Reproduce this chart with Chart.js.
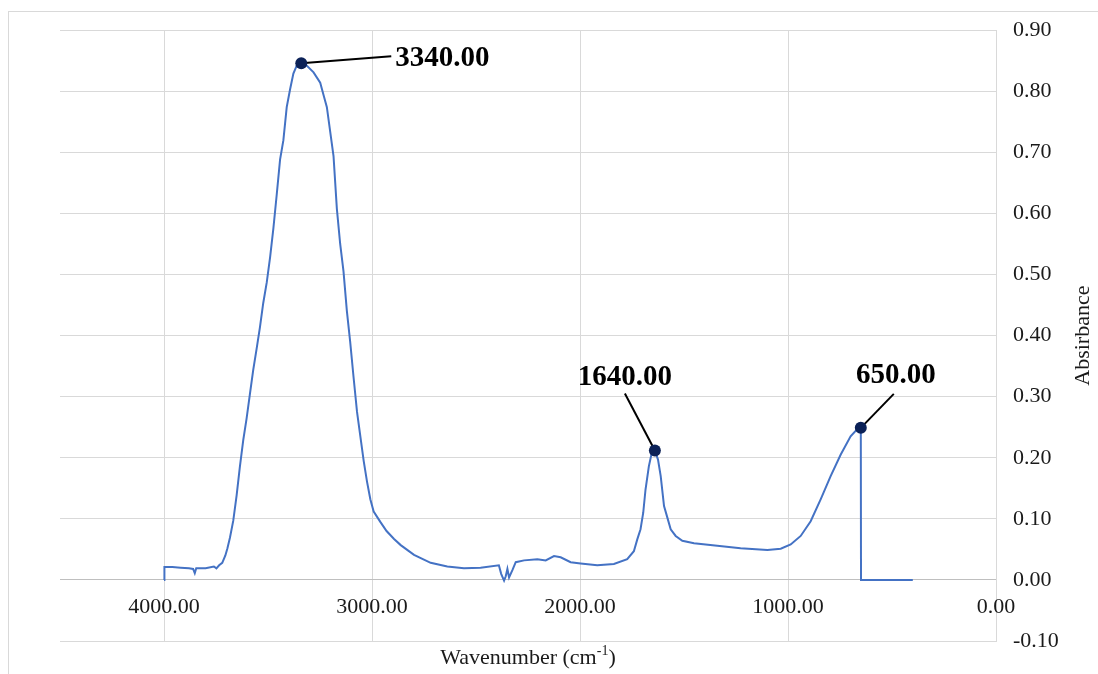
<!DOCTYPE html>
<html>
<head>
<meta charset="utf-8">
<script src="https://cdn.jsdelivr.net/npm/chart.js@4.4.1/dist/chart.umd.min.js"></script>
<style>
  html, body { margin: 0; padding: 0; background: #fff; }
  #wrap { position: relative; width: 1098px; height: 674px; overflow: hidden; }
</style>
</head>
<body>
<div id="wrap"><canvas id="ftir" width="1098" height="674"></canvas></div>
<script>
// spectrum (cm-1 vs absorbance)
const wavenumber = [
    4000, 3998, 3960, 3920, 3880, 3860, 3852, 3845, 3800, 3760, 3748, 3735, 3720, 3705, 3695,
    3683, 3667, 3651, 3635, 3619, 3603, 3587, 3571, 3555, 3539, 3523, 3506, 3490, 3474, 3458,
    3442, 3426, 3410, 3394, 3378, 3362, 3340, 3314, 3281, 3249, 3233, 3217, 3201, 3185, 3169,
    3153, 3137, 3121, 3105, 3089, 3072, 3056, 3040, 3024, 3008, 2992, 2960, 2930, 2894, 2862,
    2798, 2718, 2638, 2558, 2478, 2390, 2379, 2365, 2357, 2349, 2341, 2325, 2309, 2269, 2205,
    2165, 2125, 2093, 2045, 1997, 1917, 1837, 1773, 1741, 1725, 1709, 1696, 1685, 1669, 1657,
    1640, 1625, 1612, 1596, 1580, 1564, 1540, 1508, 1452, 1340, 1228, 1099, 1035, 987, 939,
    891, 843, 795, 747, 699, 667, 650, 649, 400
]
const absorbance = [
    0.000, 0.021, 0.021, 0.020, 0.019, 0.018, 0.011, 0.019, 0.019, 0.022, 0.019, 0.024, 0.028, 0.040, 0.052,
    0.069, 0.097, 0.138, 0.186, 0.229, 0.264, 0.304, 0.344, 0.378, 0.413, 0.453, 0.487, 0.528, 0.576, 0.631,
    0.688, 0.720, 0.774, 0.803, 0.829, 0.842, 0.846, 0.842, 0.831, 0.814, 0.794, 0.774, 0.734, 0.694, 0.608,
    0.550, 0.505, 0.441, 0.390, 0.333, 0.275, 0.235, 0.195, 0.161, 0.132, 0.112, 0.095, 0.080, 0.067, 0.057,
    0.041, 0.028, 0.022, 0.019, 0.020, 0.024, 0.010, -0.001, 0.006, 0.018, 0.004, 0.016, 0.029, 0.032, 0.034,
    0.032, 0.039, 0.037, 0.029, 0.027, 0.024, 0.026, 0.034, 0.047, 0.066, 0.083, 0.110, 0.148, 0.186, 0.205,
    0.212, 0.197, 0.170, 0.121, 0.102, 0.083, 0.072, 0.064, 0.060, 0.056, 0.052, 0.049, 0.051, 0.058, 0.072,
    0.096, 0.132, 0.170, 0.205, 0.235, 0.247, 0.249, 0.000, 0.000
]

// marked peaks
const peakX = [3340, 1640, 650]
const peakY = [0.846, 0.212, 0.249]
const peakLabels = ['3340.00', '1640.00', '650.00']

const xTicks = [4000, 3000, 2000, 1000, 0]
const xTitle = 'Wavenumber (cm'
const xTitleSup = '-1'
const yTitle = 'Absirbance'

const serif = "'Liberation Serif', 'Times New Roman', serif"
const gridGray = '#d9d9d9'
const lineBlue = '#4472c4'
const dotNavy = '#0b2157'

// pixel offsets for the peak callouts: [lineEndDx, lineEndDy, textX, textY, align]
const calloutPos = [
    [90, -7, 94, -5, 'left'],
    [-30, -57, -30, -73, 'center'],
    [33, -34, 35, -52, 'center']
]

const spectrum = wavenumber.map((w, i) => ({ x: w, y: absorbance[i] }))
const peaks = peakX.map((w, i) => ({ x: w, y: peakY[i] }))

const extras = {
    id: 'extras',
    beforeDraw(chart) {
        const ctx = chart.ctx
        ctx.save()
        ctx.strokeStyle = gridGray
        ctx.lineWidth = 1
        ctx.strokeRect(8.5, 11.5, 1200, 1200)
        ctx.restore()
    },
    beforeDatasetsDraw(chart) {
        const ctx = chart.ctx
        const xs = chart.scales.x
        const ys = chart.scales.y
        ctx.save()
        ctx.strokeStyle = '#000'
        ctx.lineWidth = 2
        peakX.forEach((w, i) => {
            const px = xs.getPixelForValue(w)
            const py = ys.getPixelForValue(peakY[i])
            const c = calloutPos[i]
            ctx.beginPath()
            ctx.moveTo(px, py)
            ctx.lineTo(px + c[0], py + c[1])
            ctx.stroke()
        })
        ctx.restore()
    },
    afterDraw(chart) {
        const ctx = chart.ctx
        const xs = chart.scales.x
        const ys = chart.scales.y
        const area = chart.chartArea
        ctx.save()

        // x tick labels sit under the zero line
        const y0 = ys.getPixelForValue(0)
        ctx.fillStyle = '#1a1a1a'
        ctx.font = '22px ' + serif
        ctx.textAlign = 'center'
        ctx.textBaseline = 'alphabetic'
        xTicks.forEach(t => {
            ctx.fillText(t.toFixed(2), xs.getPixelForValue(t), y0 + 33)
        })

        // x title with superscript
        const mid = (area.left + area.right) / 2
        ctx.font = '22px ' + serif
        const w1 = ctx.measureText(xTitle).width
        ctx.font = '14px ' + serif
        const w2 = ctx.measureText(xTitleSup).width
        ctx.font = '22px ' + serif
        const w3 = ctx.measureText(')').width
        let sx = mid - (w1 + w2 + w3) / 2
        ctx.textAlign = 'left'
        ctx.fillText(xTitle, sx, 664)
        ctx.font = '14px ' + serif
        ctx.fillText(xTitleSup, sx + w1, 655)
        ctx.font = '22px ' + serif
        ctx.fillText(')', sx + w1 + w2, 664)

        // y title, reads bottom to top
        ctx.translate(1083, (area.top + area.bottom) / 2)
        ctx.rotate(-Math.PI / 2)
        ctx.textAlign = 'center'
        ctx.textBaseline = 'middle'
        ctx.fillText(yTitle, 0, 0)
        ctx.setTransform(1, 0, 0, 1, 0, 0)

        // peak labels
        ctx.fillStyle = '#000'
        ctx.font = 'bold 29px ' + serif
        ctx.textBaseline = 'middle'
        peakX.forEach((w, i) => {
            const px = xs.getPixelForValue(w)
            const py = ys.getPixelForValue(peakY[i])
            const c = calloutPos[i]
            ctx.textAlign = c[4]
            ctx.fillText(peakLabels[i], px + c[2], py + c[3])
        })
        ctx.restore()
    }
}

Chart.defaults.font.family = serif

new Chart(document.getElementById('ftir').getContext('2d'), {
    type: 'scatter',
    data: {
        datasets: [
            {
                label: 'peaks',
                data: peaks,
                order: 0,
                pointRadius: 6,
                pointBackgroundColor: dotNavy,
                pointBorderColor: dotNavy,
                pointBorderWidth: 0,
                showLine: false
            },
            {
                label: 'spectrum',
                data: spectrum,
                order: 1,
                showLine: true,
                borderColor: lineBlue,
                borderWidth: 2,
                pointRadius: 0,
                tension: 0
            }
        ]
    },
    options: {
        responsive: false,
        animation: false,
        devicePixelRatio: 1,
        layout: { padding: { left: 60, top: 29, right: 0, bottom: 0 } },
        plugins: {
            legend: { display: false },
            tooltip: { enabled: false }
        },
        scales: {
            x: {
                type: 'linear',
                reverse: true,
                min: 0,
                max: 4500,
                ticks: { display: false },
                afterBuildTicks: scale => { scale.ticks = xTicks.map(v => ({ value: v })) },
                grid: { color: gridGray, lineWidth: 1, drawTicks: false },
                border: { color: gridGray },
                afterFit: scale => { scale.height = 33 }
            },
            y: {
                position: 'right',
                min: -0.1,
                max: 0.9,
                ticks: {
                    stepSize: 0.1,
                    padding: 17,
                    color: '#1a1a1a',
                    font: { size: 22, family: serif },
                    callback: v => Number(v).toFixed(2)
                },
                grid: {
                    drawTicks: false,
                    lineWidth: 1,
                    color: c => Math.abs(c.tick.value) < 1e-9 ? '#bfbfbf' : gridGray
                },
                border: { color: gridGray },
                afterFit: scale => { scale.width = 102 }
            }
        }
    },
    plugins: [extras]
})
</script>
</body>
</html>
